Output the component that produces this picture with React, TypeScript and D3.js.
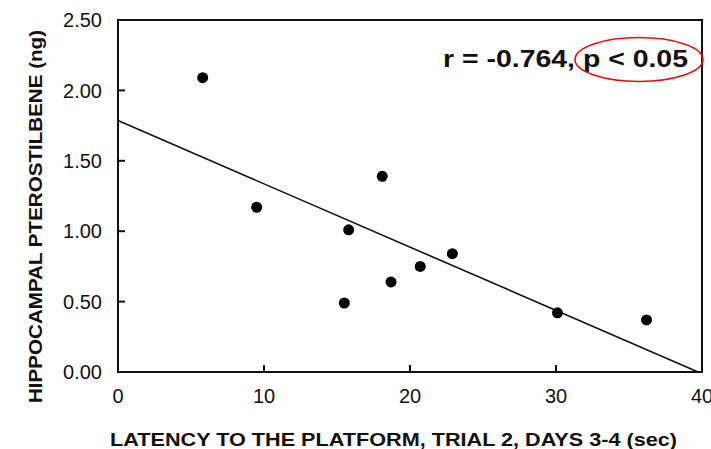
import React from "react";
import * as d3 from "d3";

const latency = [5.8, 9.5, 15.8, 18.1, 15.5, 18.7, 20.7, 22.9, 30.1, 36.2];
const pterostilbene = [2.09, 1.17, 1.01, 1.39, 0.49, 0.64, 0.75, 0.84, 0.42, 0.37];
const xTicks = [0, 10, 20, 30, 40];
const yTicks = [0, 0.5, 1.0, 1.5, 2.0, 2.5];
const xLabel = "LATENCY TO THE PLATFORM, TRIAL 2, DAYS 3-4 (sec)";
const yLabel = "HIPPOCAMPAL PTEROSTILBENE (ng)";
const statText = "r = -0.764, p < 0.05";

const W = 711;
const H = 449;
const M = { left: 118, right: 702, top: 20, bottom: 372 };
const FONT = "'Liberation Sans', Arial, Helvetica, sans-serif";

export default function App() {
  const x = d3.scaleLinear().domain([0, 40]).range([M.left, M.right]);
  const y = d3.scaleLinear().domain([0, 2.5]).range([M.bottom, M.top]);

  // least squares regression
  const mx = d3.mean(latency) as number;
  const my = d3.mean(pterostilbene) as number;
  let sxy = 0, sxx = 0;
  latency.forEach((v, i) => {
    sxy += (v - mx) * (pterostilbene[i] - my);
    sxx += (v - mx) * (v - mx);
  });
  const slope = sxy / sxx;
  const intercept = my - slope * mx;
  const xEnd = Math.min(40, -intercept / slope);
  const line = d3.line<[number, number]>().x((d) => x(d[0])).y((d) => y(d[1]));
  const regPath = line([
    [0, intercept],
    [xEnd, intercept + slope * xEnd],
  ]) as string;

  return (
    <svg
      width={W}
      height={H}
      style={{ position: "absolute", left: 0, top: 0, background: "#fff" }}
      fontFamily={FONT}
    >
      <rect x={0} y={0} width={W} height={H} fill="#fff" />
      {/* frame */}
      <rect
        x={M.left}
        y={M.top}
        width={M.right - M.left}
        height={M.bottom - M.top}
        fill="none"
        stroke="#111"
        strokeWidth={2}
      />
      {/* y ticks */}
      {yTicks.map((t) => (
        <g key={"y" + t}>
          <line x1={M.left} x2={M.left + 7} y1={y(t)} y2={y(t)} stroke="#111" strokeWidth={2} />
          <text x={102} y={y(t)} dy="0.36em" textAnchor="end" fontSize={20} fill="#111">
            {t.toFixed(2)}
          </text>
        </g>
      ))}
      {/* x ticks */}
      {xTicks.map((t) => (
        <g key={"x" + t}>
          <line x1={x(t)} x2={x(t)} y1={M.bottom} y2={M.bottom - 7} stroke="#111" strokeWidth={2} />
          <text x={x(t)} y={403} textAnchor="middle" fontSize={20} fill="#111">
            {t}
          </text>
        </g>
      ))}
      {/* regression line */}
      <path d={regPath} fill="none" stroke="#111" strokeWidth={1.6} />
      {/* points */}
      {latency.map((v, i) => (
        <circle key={i} cx={x(v)} cy={y(pterostilbene[i])} r={5.5} fill="#000" />
      ))}
      {/* labels */}
      <text
        x={110}
        y={446}
        fontSize={19}
        fontWeight="bold"
        fill="#111"
        textLength={567}
        lengthAdjust="spacingAndGlyphs"
      >
        {xLabel}
      </text>
      <text
        transform="translate(42,403) rotate(-90)"
        x={0}
        y={0}
        fontSize={19}
        fontWeight="bold"
        fill="#111"
        textLength={373}
        lengthAdjust="spacingAndGlyphs"
      >
        {yLabel}
      </text>
      <text
        x={443}
        y={67}
        fontSize={24}
        fontWeight="bold"
        fill="#111"
        textLength={245}
        lengthAdjust="spacingAndGlyphs"
      >
        {statText}
      </text>
      <ellipse cx={639} cy={59.5} rx={64} ry={22} fill="none" stroke="#e01010" strokeWidth={1.6} />
    </svg>
  );
}
